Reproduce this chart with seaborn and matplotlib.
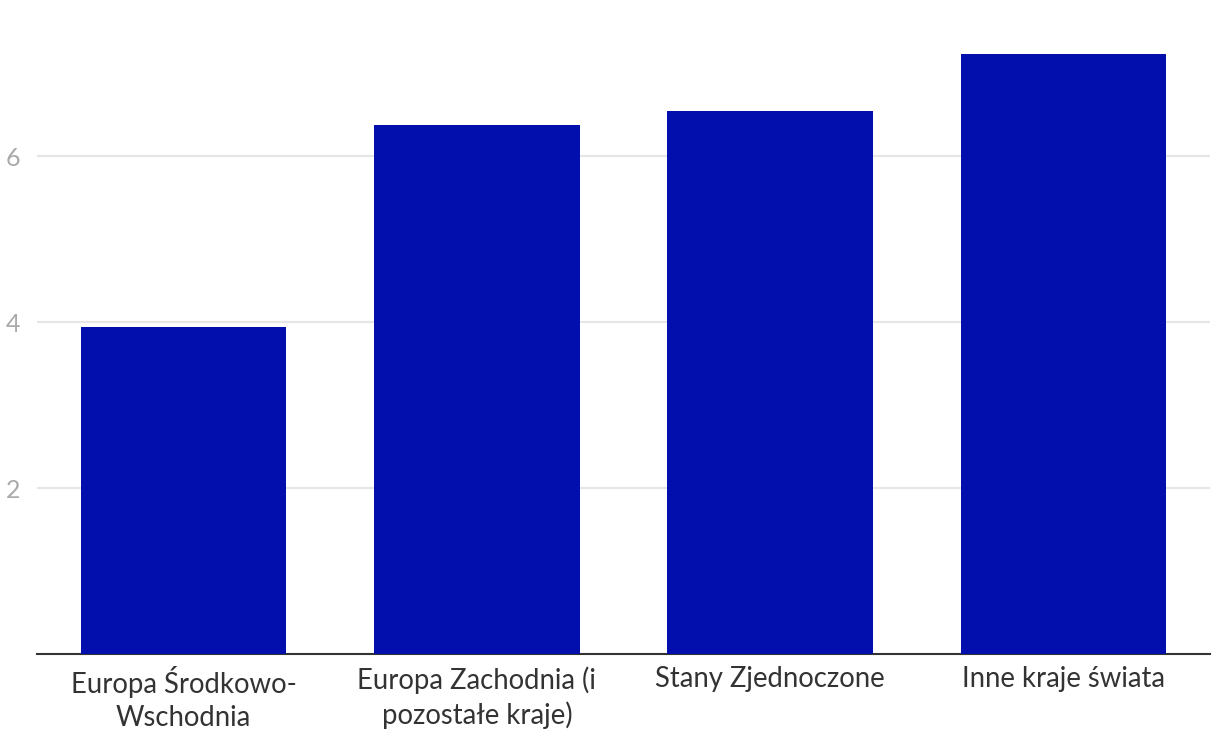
import matplotlib
matplotlib.use("Agg")
import matplotlib.pyplot as plt
import seaborn as sns
import pandas as pd

categories = ["Europa Środkowo-\nWschodnia", "Europa Zachodnia (i\npozostałe kraje)", "Stany Zjednoczone", "Inne kraje świata"]
values = [3.94, 6.37, 6.54, 7.23]
yticks = [2, 4, 6]

sns.set_theme(style="white")
plt.rcParams['font.family'] = ['Lato', 'DejaVu Sans']

df = pd.DataFrame({"cat": categories, "val": values})
fig = plt.figure(figsize=(12.2, 7.48), dpi=100)
ax = fig.add_axes([37/1220, 94/748, (1210-37)/1220, 654/748])
sns.barplot(data=df, x="cat", y="val", color="#020fad", saturation=1, width=0.7,
            linewidth=0, edgecolor="none", ax=ax, zorder=3)
ax.set_xlim(-0.5, 3.5)
ax.set_ylim(0, 654/83)
ax.set_yticks(yticks)
ax.set_yticklabels([str(t) for t in yticks])
ax.yaxis.grid(True, color="#e6e6e6", linewidth=1.5, zorder=0)
ax.set_axisbelow(True)
for s in ["top", "right", "left"]:
    ax.spines[s].set_visible(False)
ax.spines["bottom"].set_color("#333333")
ax.spines["bottom"].set_linewidth(1.5)
ax.tick_params(axis="y", length=0, labelsize=18, labelcolor="#aaaaaa", pad=12)
ax.tick_params(axis="x", length=0, labelsize=19.8, labelcolor="#333333", pad=9)
for lab in ax.get_xticklabels():
    lab.set_linespacing(1.3)
ax.set_xlabel("")
ax.set_ylabel("")
fig.savefig("out.png", dpi=100)
